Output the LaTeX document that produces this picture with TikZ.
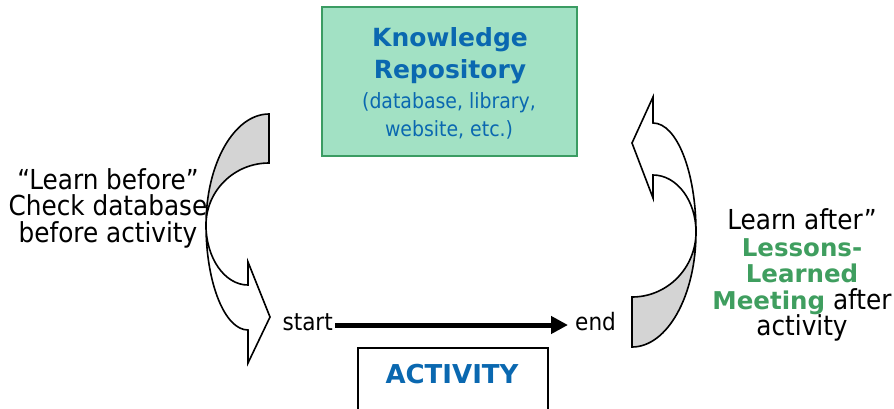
\documentclass[tikz,border=0pt]{standalone}
\usepackage{fontspec}
\setmainfont{DejaVu Sans Condensed}
\newfontfamily\widebold{DejaVu Sans Bold}
\usetikzlibrary{arrows.meta}
\definecolor{kblue}{HTML}{0A68B0}
\definecolor{kgreen}{HTML}{3B9C63}
\definecolor{kfill}{HTML}{A2E1C4}
\definecolor{lgreen}{HTML}{3F9E5F}
\definecolor{shade}{HTML}{D4D4D4}
\tikzset{
  band/.style={draw=black, line width=1.6pt, line join=miter},
  txt/.style={inner sep=0pt, font=\fontsize{27.5}{26.5}\selectfont, align=center},
  boxtitle/.style={inner sep=0pt, text=kblue, font=\widebold\fontsize{25}{27}\selectfont},
  boxsub/.style={inner sep=0pt, text=kblue, font=\fontsize{21}{23}\selectfont},
}
\newcommand{\gw}[1]{{\color{lgreen}\widebold\fontsize{24.5}{26.5}\selectfont #1}}
\begin{document}
\begin{tikzpicture}[x=1pt,y=-1pt]
\useasboundingbox (0,0) rectangle (894,408);
% knowledge repository box
\node[draw=kgreen, fill=kfill, line width=2pt, minimum width=255pt, minimum height=149pt, inner sep=0pt] (kr) at (449.5,81.5) {};
\node[boxtitle] (k1) at (450,40) {Knowledge};
\node[boxtitle] (k2) at (450,72) {Repository};
\node[boxsub] (k3) at (449,103) {(database, library,};
\node[boxsub] (k4) at (449,130) {website, etc.)};
% activity box
\node[draw=black, line width=1.5pt, minimum width=190pt, minimum height=70pt, inner sep=0pt, anchor=north west] (act) at (357,347) {};
\node[boxtitle, font=\widebold\fontsize{26}{28}\selectfont] (actt) at (452,374) {ACTIVITY};
% start / end
\node[txt, font=\fontsize{24}{25}\selectfont, anchor=east] (start) at (333,322) {start};
\node[txt, font=\fontsize{24}{25}\selectfont, anchor=west] (end) at (575,322) {end};
\draw[line width=5pt, -{Triangle[length=17pt,width=17pt]}] ([xshift=2pt,yshift=-3pt]start.east) -- ([xshift=-7pt,yshift=-3pt]end.west);
% left curved arrow
\draw[band, fill=shade] (269,114) arc[start angle=270, end angle=180, x radius=63, y radius=111]
  arc[start angle=180, end angle=270, x radius=63, y radius=62] -- cycle;
\draw[band, fill=white] (206,225) arc[start angle=180, end angle=90, x radius=42, y radius=105]
  -- (248,363) -- (270,317) -- (248,262) -- (248,285)
  arc[start angle=90, end angle=180, x radius=42, y radius=60] -- cycle;
% right curved arrow
\draw[band, fill=shade] (632,297) -- (632,347) arc[start angle=90, end angle=0, x radius=64, y radius=115]
  arc[start angle=0, end angle=90, x radius=64, y radius=65] -- cycle;
\draw[band, fill=white] (696,232) arc[start angle=0, end angle=-90, x radius=43, y radius=109]
  -- (653,97) -- (632,143) -- (653,198) -- (653,175)
  arc[start angle=-90, end angle=0, x radius=43, y radius=57] -- cycle;
% left text
\node[txt] (lt) at (108,208) {“Learn before”\\Check database\\before activity};
% right text
\node[txt] (rt) at (802,275) {Learn after”\\\gw{Lessons-}\\\gw{Learned}\\\gw{Meeting} after\\activity};
\end{tikzpicture}
\end{document}
